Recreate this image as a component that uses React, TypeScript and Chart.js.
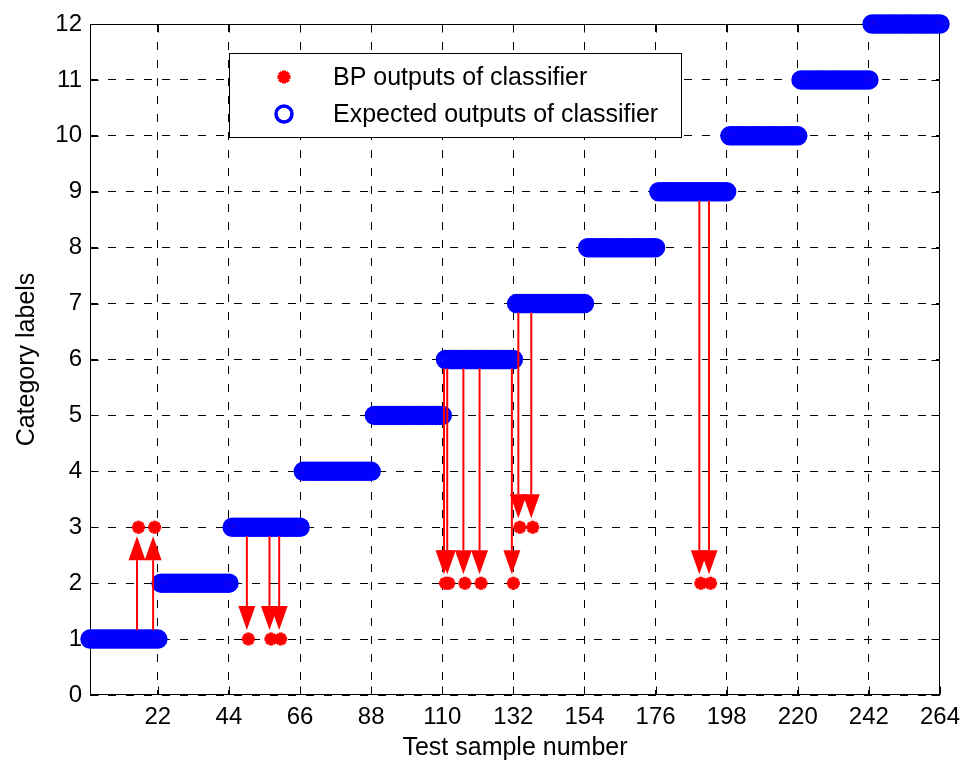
import React, { useEffect, useRef } from 'react';
import { Chart, registerables } from 'chart.js';

Chart.register(...registerables);

// ---------------- data ----------------
const classLabels = [1, 2, 3, 4, 5, 6, 7, 8, 9, 10, 11, 12];
const samplesPerClass = 22;
// test samples the BP network got wrong, and what it answered
const misclassifiedSamples = [16, 21, 50, 57, 60, 111, 112, 117, 122, 132, 134, 138, 190, 193];
const misclassifiedOutputs = [3, 3, 1, 1, 1, 2, 2, 2, 2, 2, 3, 3, 2, 2];
const xTickValues = [22, 44, 66, 88, 110, 132, 154, 176, 198, 220, 242, 264];
const yTickValues = [0, 1, 2, 3, 4, 5, 6, 7, 8, 9, 10, 11, 12];
const xAxisTitle = 'Test sample number';
const yAxisTitle = 'Category labels';
const seriesNames = ['BP outputs of classifier', 'Expected outputs of classifier'];

const expectedOutputs: number[] = classLabels.flatMap((c) => Array(samplesPerClass).fill(c));
const bpOutputs: number[] = expectedOutputs.slice();
misclassifiedSamples.forEach((s, i) => {
  bpOutputs[s - 1] = misclassifiedOutputs[i];
});

const RED = '#ff0000';
const BLUE = '#0000ff';
const FONT = "'Liberation Sans', Arial, Helvetica, sans-serif";

function drawStar(ctx: CanvasRenderingContext2D, x: number, y: number, r: number) {
  ctx.beginPath();
  ctx.moveTo(x - r, y); ctx.lineTo(x + r, y);
  ctx.moveTo(x, y - r); ctx.lineTo(x, y + r);
  const d = r * Math.SQRT1_2;
  ctx.moveTo(x - d, y - d); ctx.lineTo(x + d, y + d);
  ctx.moveTo(x - d, y + d); ctx.lineTo(x + d, y - d);
  ctx.stroke();
}

const framePlugin = {
  id: 'frame',
  beforeDatasetsDraw(chart: any) {
    const { ctx, chartArea, scales } = chart;
    const L = Math.round(chartArea.left) + 0.5;
    const R = Math.round(chartArea.right) - 0.5;
    const T = Math.round(chartArea.top) + 0.5;
    const B = Math.round(chartArea.bottom) - 0.5;
    const tl = 8;
    ctx.save();
    ctx.strokeStyle = '#000';
    ctx.lineWidth = 1;
    ctx.setLineDash([]);
    ctx.beginPath();
    ctx.rect(L, T, R - L, B - T);
    xTickValues.forEach((v) => {
      const px = Math.round(scales.x.getPixelForValue(v)) + 0.5;
      ctx.moveTo(px, B); ctx.lineTo(px, B - tl);
      ctx.moveTo(px, T); ctx.lineTo(px, T + tl);
    });
    yTickValues.forEach((v) => {
      const py = Math.round(scales.y.getPixelForValue(v)) + 0.5;
      ctx.moveTo(L, py); ctx.lineTo(L + tl, py);
      ctx.moveTo(R, py); ctx.lineTo(R - tl, py);
    });
    ctx.stroke();
    ctx.restore();
  },
};

const arrowPlugin = {
  id: 'arrows',
  afterDatasetsDraw(chart: any) {
    const { ctx, scales } = chart;
    const gapStart = 9;
    const gapTip = 9;
    const headLen = 24;
    const headHalf = 8.5;
    ctx.save();
    ctx.strokeStyle = RED;
    ctx.fillStyle = RED;
    ctx.lineWidth = 2;
    misclassifiedSamples.forEach((s, i) => {
      const from = expectedOutputs[s - 1];
      const to = misclassifiedOutputs[i];
      const dir = to > from ? -1 : 1; // pixel direction
      const x = scales.x.getPixelForValue(s) - 1.5;
      const y0 = scales.y.getPixelForValue(from) + dir * gapStart;
      const tip = scales.y.getPixelForValue(to) - dir * gapTip;
      const base = tip - dir * headLen;
      ctx.beginPath();
      ctx.moveTo(x, y0);
      ctx.lineTo(x, base);
      ctx.stroke();
      ctx.beginPath();
      ctx.moveTo(x, tip);
      ctx.lineTo(x - headHalf, base);
      ctx.lineTo(x + headHalf, base);
      ctx.closePath();
      ctx.fill();
    });
    ctx.restore();
  },
};

const legendPlugin = {
  id: 'boxLegend',
  afterDraw(chart: any) {
    const { ctx } = chart;
    const bx = 229.5, by = 53.5, bw = 452, bh = 84;
    ctx.save();
    ctx.fillStyle = '#fff';
    ctx.fillRect(bx, by, bw, bh);
    ctx.strokeStyle = '#000';
    ctx.lineWidth = 1;
    ctx.setLineDash([]);
    ctx.strokeRect(bx, by, bw, bh);
    const mx = 284;
    const rows = [77, 114];
    // BP marker
    ctx.strokeStyle = RED;
    ctx.lineWidth = 4;
    drawStar(ctx, mx, rows[0], 6.5);
    // expected marker
    ctx.strokeStyle = BLUE;
    ctx.lineWidth = 3.5;
    ctx.beginPath();
    ctx.arc(mx, rows[1], 8, 0, Math.PI * 2);
    ctx.stroke();
    ctx.fillStyle = '#000';
    ctx.font = `25px ${FONT}`;
    ctx.textAlign = 'left';
    ctx.textBaseline = 'middle';
    ctx.fillText(seriesNames[0], 333, rows[0] + 1);
    ctx.fillText(seriesNames[1], 333, rows[1] + 1);
    ctx.restore();
  },
};

export default function App() {
  const canvasRef = useRef<HTMLCanvasElement | null>(null);

  useEffect(() => {
    if (!canvasRef.current) return;
    const sampleIdx = expectedOutputs.map((_, i) => i + 1);
    const chart = new Chart(canvasRef.current, {
      type: 'scatter',
      data: {
        datasets: [
          {
            label: seriesNames[0],
            data: sampleIdx.map((s, i) => ({ x: s, y: bpOutputs[i] })),
            pointStyle: 'star',
            pointRadius: 6.5,
            pointBorderWidth: 4,
            pointBorderColor: RED,
            pointBackgroundColor: RED,
            showLine: false,
            clip: false as any,
            order: 1,
          },
          {
            label: seriesNames[1],
            data: sampleIdx.map((s, i) => ({ x: s, y: expectedOutputs[i] })),
            pointStyle: 'circle',
            pointRadius: 8,
            pointBorderWidth: 3.5,
            pointBorderColor: BLUE,
            pointBackgroundColor: 'rgba(0,0,0,0)',
            showLine: false,
            clip: false as any,
            order: 0,
          },
        ],
      },
      options: {
        responsive: false,
        animation: false,
        events: [],
        layout: { padding: { top: 24, right: 25, left: 0, bottom: 0 } },
        plugins: {
          legend: { display: false },
          tooltip: { enabled: false },
        },
        scales: {
          x: {
            type: 'linear',
            min: 1,
            max: 264,
            afterBuildTicks: (scale: any) => {
              scale.ticks = xTickValues.map((v) => ({ value: v }));
            },
            afterFit: (scale: any) => {
              scale.height = 67;
            },
            ticks: {
              color: '#000',
              font: { family: FONT, size: 24 },
              padding: 8,
              maxRotation: 0,
              autoSkip: false,
              callback: (v: any) => String(v),
            },
            grid: {
              color: '#000',
              lineWidth: 1,
              drawTicks: false,
            },
            border: { display: false, dash: [8, 10] },
            title: {
              display: true,
              text: xAxisTitle,
              color: '#000',
              font: { family: FONT, size: 25, lineHeight: 1 },
              padding: { top: 0, bottom: 1 },
            },
          },
          y: {
            type: 'linear',
            min: 0,
            max: 12,
            afterBuildTicks: (scale: any) => {
              scale.ticks = yTickValues.map((v) => ({ value: v }));
            },
            afterFit: (scale: any) => {
              scale.width = 90;
            },
            ticks: {
              color: '#000',
              font: { family: FONT, size: 24 },
              padding: 8,
              autoSkip: false,
              callback: (v: any) => String(v),
            },
            grid: {
              color: '#000',
              lineWidth: 1,
              drawTicks: false,
            },
            border: { display: false, dash: [8, 10] },
            title: {
              display: true,
              text: yAxisTitle,
              color: '#000',
              font: { family: FONT, size: 25, lineHeight: 1 },
              padding: { top: 15, bottom: 0 },
            },
          },
        },
      } as any,
      plugins: [framePlugin, arrowPlugin, legendPlugin],
    });
    return () => chart.destroy();
  }, []);

  return (
    <div style={{ position: 'absolute', left: 0, top: 0, width: 968, height: 762, background: '#fff' }}>
      <canvas ref={canvasRef} width={968} height={762} style={{ display: 'block', width: 968, height: 762 }} />
    </div>
  );
}
